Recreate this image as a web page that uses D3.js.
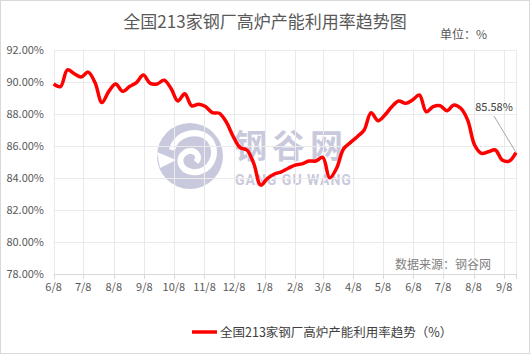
<!DOCTYPE html>
<html>
<head>
<meta charset="utf-8">
<script src="https://cdn.jsdelivr.net/npm/d3@7"></script>
<style>
  body { margin: 0; background: #fff; }
  text { font-family: "Noto Sans CJK SC", "Noto Sans", sans-serif; }
</style>
</head>
<body>
<div id="chart"></div>
<script>
(function() {
    'use strict';

    // data ================================================
    const startDate = '2018-06-08';   // weekly series, first week
    const values = [
        89.86, 89.70, 90.74, 90.50, 90.30, 90.60, 89.95, 88.70, 89.40, 89.86,
        89.40, 89.70, 89.95, 90.42, 89.90, 89.86, 90.10, 89.60, 88.80, 89.25,
        88.50, 88.60, 88.45, 88.07, 88.03, 87.50, 86.60, 85.90, 85.74, 84.90,
        83.55, 83.97, 84.24, 84.37, 84.60, 84.80, 84.87, 85.05, 85.05, 85.28,
        84.00, 84.60, 85.80, 86.20, 86.57, 86.99, 88.07, 87.57, 87.92, 88.44,
        88.80, 88.65, 88.86, 89.17, 88.13, 88.44, 88.50, 88.19, 88.55, 88.34,
        87.60, 86.05, 85.53, 85.63, 85.74, 85.12, 85.05, 85.58
    ];
    const yTicks = [78, 80, 82, 84, 86, 88, 90, 92];
    const title = '全国213家钢厂高炉产能利用率趋势图';
    const unitLabel = '单位：%';
    const sourceLabel = '数据来源：钢谷网';
    const legendLabel = '全国213家钢厂高炉产能利用率趋势（%）';

    const parse = d3.timeParse('%Y-%m-%d');
    const t0 = parse(startDate);
    const data = values.map((v, i) => ({ date: d3.timeDay.offset(t0, i * 7), value: v }));
    const lastDate = data[data.length - 1].date;
    // month ticks on the 8th, starting with the first week
    const monthTicks = d3.timeMonth.range(d3.timeMonth.floor(t0), lastDate)
        .map(d => new Date(d.getFullYear(), d.getMonth(), 8))
        .filter(d => d >= t0 && d <= lastDate);

    const W = 532, H = 355;
    const svg = d3.select('#chart').append('svg')
        .attr('width', W)
        .attr('height', H);

    // frame
    svg.append('rect')
        .attr('x', 0.5).attr('y', 0.5)
        .attr('width', W - 3).attr('height', H - 2)
        .attr('fill', '#fff')
        .attr('stroke', '#d9d9d9');

    const x = d3.scaleTime().domain([t0, lastDate]).range([53.6, 516]);
    const y = d3.scaleLinear().domain([78, 92]).range([274, 49.7]);

    // watermark ===========================================
    const wm = svg.append('g').attr('opacity', 0.5);
    const wmColor = '#9595bd';
    wm.append('circle').attr('cx', 190).attr('cy', 156).attr('r', 33).attr('fill', wmColor);
    wm.append('path')
        .attr('d', 'M172,150 C176,132 200,128 210,140 C220,154 210,174 192,172 C180,170 176,158 186,152 C194,148 202,156 196,162')
        .attr('fill', 'none').attr('stroke', '#fff').attr('stroke-width', 6);
    wm.append('path')
        .attr('d', 'M157,152 L176,160 L160,168 Z')
        .attr('fill', '#fff');
    wm.append('text')
        .attr('x', 234).attr('y', 158)
        .attr('fill', wmColor)
        .style('font-size', '33px')
        .style('font-weight', 'bold')
        .style('letter-spacing', '5px')
        .text('钢谷网');
    wm.append('text')
        .attr('x', 235).attr('y', 185)
        .attr('fill', wmColor)
        .style('font-family', 'Roboto, sans-serif')
        .style('font-size', '14px')
        .style('font-weight', 'bold')
        .style('letter-spacing', '1px')
        .text('GANG GU WANG');

    // grid ================================================
    const grid = svg.append('g');
    grid.selectAll('line.h').data(yTicks).enter().append('line')
        .attr('x1', x.range()[0]).attr('x2', x.range()[1])
        .attr('y1', d => Math.round(y(d)) + 0.5).attr('y2', d => Math.round(y(d)) + 0.5)
        .attr('stroke', d => d === 78 ? '#d9d9d9' : '#eaeaea');
    grid.selectAll('line.v').data(monthTicks.concat([lastDate])).enter().append('line')
        .attr('x1', d => Math.round(x(d)) + 0.5).attr('x2', d => Math.round(x(d)) + 0.5)
        .attr('y1', y(92)).attr('y2', y(78))
        .attr('stroke', '#eaeaea');

    // x axis ticks
    svg.append('g').selectAll('line').data(monthTicks.concat([lastDate])).enter().append('line')
        .attr('x1', d => Math.round(x(d)) + 0.5).attr('x2', d => Math.round(x(d)) + 0.5)
        .attr('y1', y(78)).attr('y2', y(78) + 5)
        .attr('stroke', '#d9d9d9');

    const fmtX = d3.timeFormat('%-m/%-d');
    svg.append('g').selectAll('text').data(monthTicks).enter().append('text')
        .attr('x', d => x(d))
        .attr('y', 291)
        .attr('text-anchor', 'middle')
        .attr('fill', '#595959')
        .style('font-size', '11px')
        .text(d => fmtX(d));

    svg.append('g').selectAll('text').data(yTicks).enter().append('text')
        .attr('x', 44)
        .attr('y', d => y(d) + 4)
        .attr('text-anchor', 'end')
        .attr('fill', '#595959')
        .style('font-size', '11px')
        .text(d => d3.format('.2f')(d) + '%');

    // line ================================================
    const line = d3.line()
        .x(d => x(d.date))
        .y(d => y(d.value))
        .curve(d3.curveCatmullRom.alpha(0.5));

    svg.append('path')
        .datum(data)
        .attr('d', line)
        .attr('fill', 'none')
        .attr('stroke', '#ff0000')
        .attr('stroke-width', 3.5)
        .attr('stroke-linejoin', 'round');

    // last value label
    const last = data[data.length - 1];
    svg.append('line')
        .attr('x1', 494).attr('y1', 116)
        .attr('x2', x(last.date)).attr('y2', y(last.value))
        .attr('stroke', '#a6a6a6')
        .attr('stroke-width', 1);
    svg.append('text')
        .attr('x', 494).attr('y', 111)
        .attr('text-anchor', 'middle')
        .attr('fill', '#404040')
        .style('font-size', '11px')
        .text(d3.format('.2f')(last.value) + '%');

    // texts ===============================================
    svg.append('text')
        .attr('x', 265).attr('y', 28)
        .attr('text-anchor', 'middle')
        .attr('fill', '#595959')
        .style('font-size', '17px')
        .text(title);

    svg.append('text')
        .attr('x', 440).attr('y', 39)
        .attr('fill', '#595959')
        .style('font-size', '12px')
        .text(unitLabel);

    svg.append('text')
        .attr('x', 395).attr('y', 269)
        .attr('fill', '#7f7f7f')
        .style('font-size', '12px')
        .text(sourceLabel);

    // legend
    svg.append('line')
        .attr('x1', 192).attr('x2', 217)
        .attr('y1', 332).attr('y2', 332)
        .attr('stroke', '#ff0000')
        .attr('stroke-width', 3.5);
    svg.append('text')
        .attr('x', 220).attr('y', 336.5)
        .attr('fill', '#404040')
        .style('font-size', '12.5px')
        .text(legendLabel);
}());
</script>
</body>
</html>
